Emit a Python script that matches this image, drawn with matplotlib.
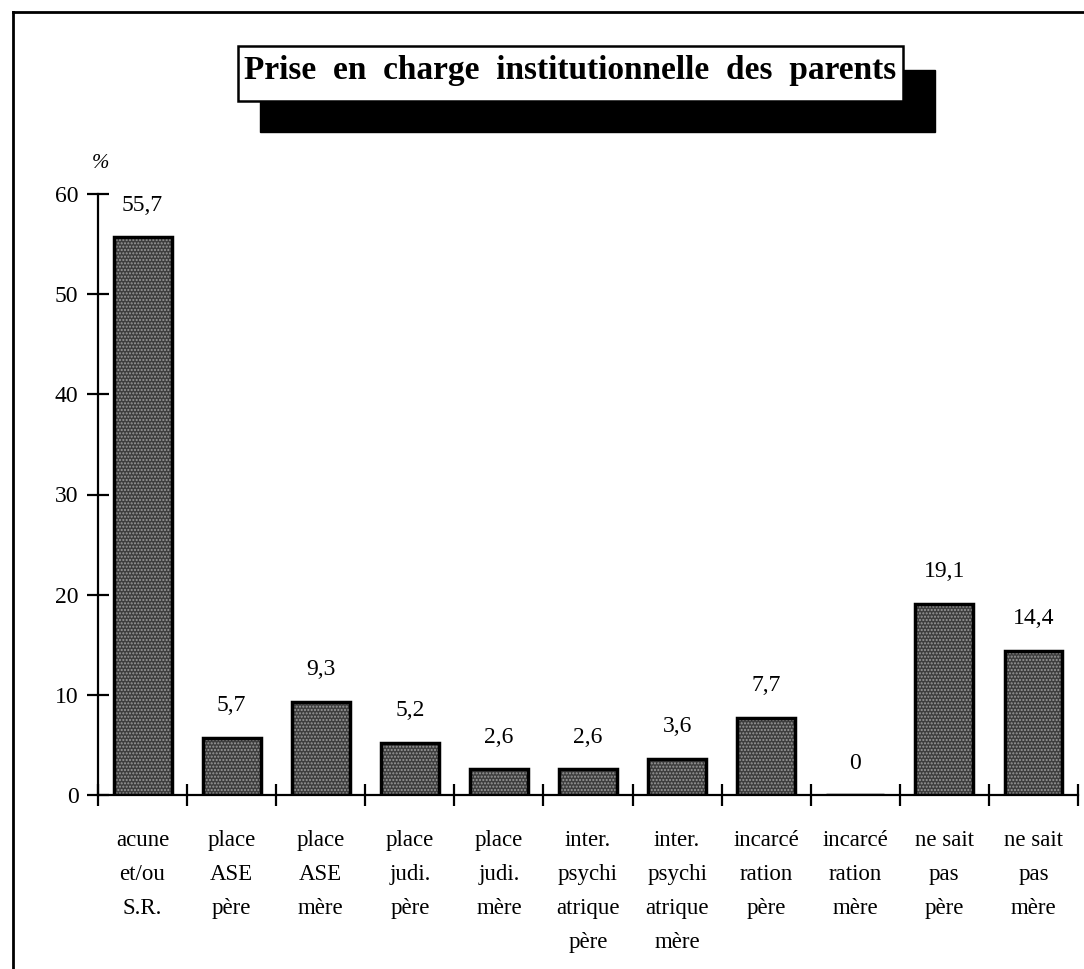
import numpy as np
import matplotlib
matplotlib.use("Agg")
import matplotlib.pyplot as plt
from matplotlib.patches import Rectangle
from matplotlib.lines import Line2D

plt.rcParams['font.family'] = ['Liberation Serif', 'DejaVu Serif']

# donnees
categories = ["acune\net/ou\nS.R.", "place\nASE\npère", "place\nASE\nmère",
              "place\njudi.\npère", "place\njudi.\nmère",
              "inter.\npsychi\natrique\npère", "inter.\npsychi\natrique\nmère",
              "incarcé\nration\npère", "incarcé\nration\nmère",
              "ne sait\npas\npère", "ne sait\npas\nmère"]
valeurs = [55.7, 5.7, 9.3, 5.2, 2.6, 2.6, 3.6, 7.7, 0, 19.1, 14.4]
etiquettes = ["55,7", "5,7", "9,3", "5,2", "2,6", "2,6", "3,6", "7,7", "0", "19,1", "14,4"]
yticks = [0, 10, 20, 30, 40, 50, 60]
titre = "Prise  en  charge  institutionnelle  des  parents"

W, H = 1084, 969
fig = plt.figure(figsize=(W / 100, H / 100), dpi=100)
fig.patch.set_facecolor('white')

# cadre exterieur
fig.add_artist(Line2D([13 / W, 13 / W], [0, 1 - 12 / H], color='black', lw=2))
fig.add_artist(Line2D([13 / W, 1], [1 - 12 / H, 1 - 12 / H], color='black', lw=2))

ax = fig.add_axes([98 / W, 174 / H, (1078 - 98) / W, (795 - 194) / H])
x = np.arange(len(valeurs))

# remplissage pointille puis contour noir
ax.bar(x, valeurs, width=0.65, color='#3e3e3e', edgecolor='#9a9a9a',
       hatch='.....', linewidth=0, zorder=2)
ax.bar(x, valeurs, width=0.65, fill=False, edgecolor='black', linewidth=2.5, zorder=3)

for xi, v, lab in zip(x, valeurs, etiquettes):
    ax.annotate(lab, (xi, v), xytext=(0, 23), textcoords='offset points',
                ha='center', va='center', fontsize=17)

ax.set_xlim(-0.5, len(valeurs) - 0.5)
ax.set_ylim(0, 60)
ax.spines['top'].set_visible(False)
ax.spines['right'].set_visible(False)
ax.spines['left'].set_linewidth(1.6)
ax.spines['bottom'].set_linewidth(1.6)

ax.set_yticks(yticks)
ax.set_yticklabels([str(t) for t in yticks], fontsize=17)
ax.tick_params(axis='y', direction='inout', length=16, width=1.6, pad=6)

ax.set_xticks(np.arange(-0.5, len(valeurs), 1.0))
ax.set_xticklabels([])
ax.tick_params(axis='x', which='major', direction='inout', length=16, width=1.6)
ax.set_xticks(x, minor=True)
ax.set_xticklabels(categories, minor=True, fontsize=16.5, linespacing=1.82, va='top')
ax.tick_params(axis='x', which='minor', length=0, pad=25)

ax.annotate('%', (0, 1), xycoords='axes fraction', xytext=(2, 22),
            textcoords='offset points', ha='center', va='center',
            fontsize=15, style='italic')

# titre avec ombre portee
fig.add_artist(Rectangle((260 / W, 1 - 132 / H), (935 - 260) / W, (132 - 70) / H,
                         transform=fig.transFigure, facecolor='black',
                         edgecolor='black', zorder=5))
fig.add_artist(Rectangle((238 / W, 1 - 101 / H), (903 - 238) / W, (101 - 46) / H,
                         transform=fig.transFigure, facecolor='white',
                         edgecolor='black', lw=1.8, zorder=6))
fig.text((238 + 903) / 2 / W, 1 - 71 / H, titre, ha='center', va='center',
         fontsize=24, fontweight='bold', zorder=7)

fig.savefig('out.png', dpi=100)
